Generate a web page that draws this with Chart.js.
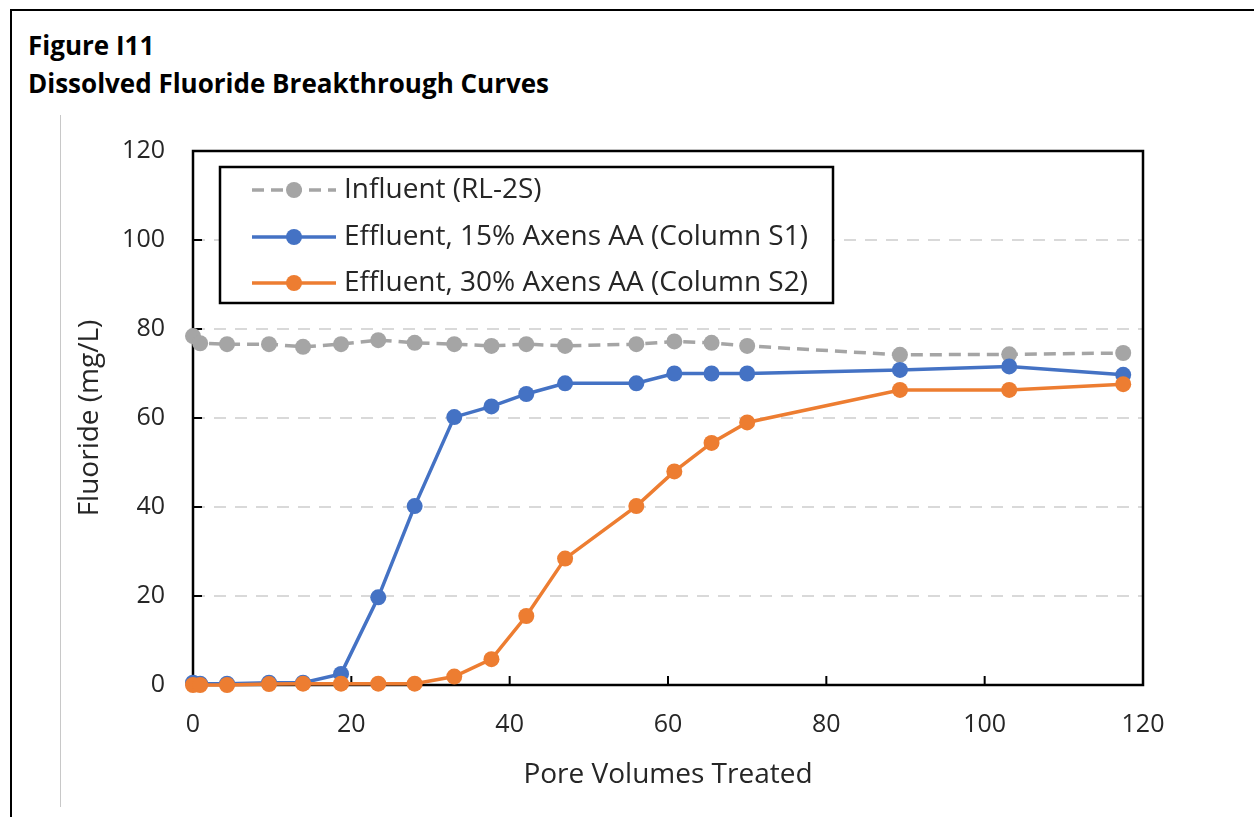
<!DOCTYPE html>
<html>
<head>
<meta charset="utf-8">
<script src="https://cdn.jsdelivr.net/npm/chart.js@4"></script>
<style>
  html, body { margin: 0; padding: 0; background: #fff; }
  #wrap { position: relative; width: 1254px; height: 817px; overflow: hidden; font-family: "Open Sans", sans-serif; }
  #frame { position: absolute; left: 10px; top: 9px; width: 1300px; height: 900px; border-left: 2px solid #000; border-top: 2px solid #000; }
  #vline { position: absolute; left: 60px; top: 115px; width: 1px; height: 692px; background: #c8c8c8; }
  .title { position: absolute; left: 28px; font-weight: bold; font-size: 26px; color: #000; line-height: 30px; }
  canvas { position: absolute; left: 0; top: 0; }
</style>
</head>
<body>
<div id="wrap">
  <div id="frame"></div>
  <div id="vline"></div>
  <div class="title" style="top:30px">Figure I11</div>
  <div class="title" style="top:68px">Dissolved Fluoride Breakthrough Curves</div>
  <canvas id="chart" width="1254" height="817"></canvas>
</div>
<script>
// Pore volumes treated (x) and fluoride (mg/L) for each series
const poreVolumes = [0, 0.9, 4.3, 9.6, 13.9, 18.7, 23.4, 28, 33, 37.7, 42.1, 47, 56, 60.8, 65.5, 70, 89.3, 103.1, 117.5];
const influent   = [78.4, 76.8, 76.6, 76.6, 76.0, 76.6, 77.5, 76.9, 76.6, 76.2, 76.6, 76.2, 76.6, 77.2, 76.9, 76.2, 74.2, 74.3, 74.6];
const effluentS1 = [0.5, 0.3, 0.3, 0.5, 0.5, 2.5, 19.7, 40.2, 60.2, 62.6, 65.4, 67.8, 67.8, 70.0, 70.0, 70.0, 70.8, 71.6, 69.7];
const effluentS2 = [0, 0, 0, 0.2, 0.3, 0.3, 0.3, 0.3, 1.9, 5.8, 15.5, 28.4, 40.2, 48.0, 54.4, 59.0, 66.3, 66.3, 67.6];

const seriesNames = ['Influent (RL-2S)', 'Effluent, 15% Axens AA (Column S1)', 'Effluent, 30% Axens AA (Column S2)'];
const xTicks = [0, 20, 40, 60, 80, 100, 120];
const yTicks = [0, 20, 40, 60, 80, 100, 120];

const toPoints = ys => ys.map((y, i) => ({ x: poreVolumes[i], y: y }));

const txt = '#262626';
const tickFont = { family: '"Open Sans", sans-serif', size: 25 };
const titleFont = { family: '"Open Sans", sans-serif', size: 28 };

// plot box, inward tick marks and the legend box
const frameAndLegend = {
  id: 'frameAndLegend',
  beforeDatasetsDraw(chart) {
    const { ctx, chartArea: a, scales } = chart;
    ctx.save();
    ctx.strokeStyle = '#000';
    ctx.lineWidth = 2;
    ctx.beginPath();
    xTicks.forEach(v => {
      const px = scales.x.getPixelForValue(v);
      ctx.moveTo(px, a.bottom); ctx.lineTo(px, a.bottom - 9);
    });
    yTicks.forEach(v => {
      const py = scales.y.getPixelForValue(v);
      ctx.moveTo(a.left, py); ctx.lineTo(a.left + 9, py);
    });
    ctx.stroke();
    ctx.lineWidth = 2.5;
    ctx.strokeRect(a.left, a.top, a.right - a.left, a.bottom - a.top);
    ctx.restore();
  },
  afterDatasetsDraw(chart) {
    const { ctx } = chart;
    const box = { x: 220, y: 167, w: 613, h: 136 };
    ctx.save();
    ctx.fillStyle = '#fff';
    ctx.fillRect(box.x, box.y, box.w, box.h);
    ctx.strokeStyle = '#000';
    ctx.lineWidth = 2.5;
    ctx.strokeRect(box.x, box.y, box.w, box.h);
    const rows = [190, 237, 283];
    chart.data.datasets.forEach((ds, i) => {
      const y = rows[i];
      ctx.strokeStyle = ds.borderColor;
      ctx.lineWidth = ds.borderWidth;
      ctx.setLineDash(ds.borderDash || []);
      ctx.beginPath();
      ctx.moveTo(252, y); ctx.lineTo(336, y);
      ctx.stroke();
      ctx.setLineDash([]);
      ctx.fillStyle = ds.pointBackgroundColor;
      ctx.beginPath();
      ctx.arc(294, y, 8, 0, Math.PI * 2);
      ctx.fill();
      ctx.fillStyle = txt;
      ctx.font = '28px "Open Sans", sans-serif';
      ctx.textBaseline = 'middle';
      ctx.fillText(ds.label, 344, y);
    });
    ctx.restore();
  }
};

new Chart(document.getElementById('chart'), {
  type: 'scatter',
  data: {
    datasets: [{
      label: seriesNames[0],
      data: toPoints(influent),
      showLine: true,
      borderColor: '#a5a5a5',
      backgroundColor: '#a5a5a5',
      pointBackgroundColor: '#a5a5a5',
      borderWidth: 3.5,
      borderDash: [12, 7],
      pointRadius: 8,
      pointBorderWidth: 0,
      order: 3,
      clip: false
    }, {
      label: seriesNames[1],
      data: toPoints(effluentS1),
      showLine: true,
      borderColor: '#4472c4',
      backgroundColor: '#4472c4',
      pointBackgroundColor: '#4472c4',
      borderWidth: 3.5,
      pointRadius: 8,
      pointBorderWidth: 0,
      order: 2,
      clip: false
    }, {
      label: seriesNames[2],
      data: toPoints(effluentS2),
      showLine: true,
      borderColor: '#ed7d31',
      backgroundColor: '#ed7d31',
      pointBackgroundColor: '#ed7d31',
      borderWidth: 3.5,
      pointRadius: 8,
      pointBorderWidth: 0,
      order: 1,
      clip: false
    }]
  },
  options: {
    responsive: false,
    animation: false,
    events: [],
    layout: { padding: { left: 0, top: 151, right: 111, bottom: 0 } },
    plugins: { legend: { display: false }, tooltip: { enabled: false } },
    scales: {
      x: {
        type: 'linear',
        min: 0, max: 120,
        afterBuildTicks: s => { s.ticks = xTicks.map(v => ({ value: v })); },
        afterFit: s => { s.height = 132; },
        grid: { display: false, drawTicks: false },
        border: { display: false },
        ticks: { color: txt, font: tickFont, padding: 25, maxRotation: 0 },
        title: { display: true, text: 'Pore Volumes Treated', color: txt, font: titleFont, padding: { top: 0, bottom: 25 } }
      },
      y: {
        type: 'linear',
        min: 0, max: 120,
        afterBuildTicks: s => { s.ticks = yTicks.map(v => ({ value: v })); },
        afterFit: s => { s.width = 193; },
        grid: {
          drawTicks: false,
          lineWidth: 2,
          color: c => (c.tick && (c.tick.value === 0 || c.tick.value === 120)) ? 'rgba(0,0,0,0)' : '#d9d9d9'
        },
        border: { display: false, dash: [12, 9] },
        ticks: { color: txt, font: tickFont, padding: 28 },
        title: { display: true, text: 'Fluoride (mg/L)', color: txt, font: titleFont, padding: { top: 73, bottom: 0 } }
      }
    }
  },
  plugins: [frameAndLegend]
});
</script>
</body>
</html>
